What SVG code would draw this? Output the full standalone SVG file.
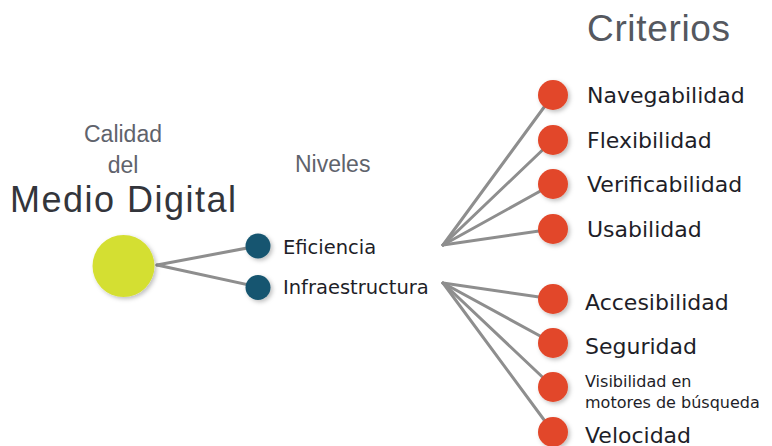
<svg xmlns="http://www.w3.org/2000/svg" width="772" height="446" viewBox="0 0 772 446">
<defs>
<filter id="sh" x="-40%" y="-40%" width="180%" height="180%">
<feDropShadow dx="2" dy="2" stdDeviation="2" flood-color="#000" flood-opacity="0.25"/>
</filter>
</defs>
<style>
.ln{stroke:#8e8e8e;stroke-width:3;fill:none;stroke-linecap:round}
.crit{fill:#e2472a;filter:url(#sh)}
.lvl{fill:#15556f;filter:url(#sh)}
.ct{font-family:"DejaVu Sans",sans-serif;font-size:22px;fill:#1e1e28}
.small{font-size:16px}
.lt{font-family:"DejaVu Sans",sans-serif;font-size:19.5px;fill:#1e1e28}
.head{font-family:"Liberation Sans",Arial,sans-serif;font-size:23px;fill:#5f636c}
</style>
<rect width="772" height="446" fill="#fff"/>
<g id="connectors">
<line class="ln" x1="157" y1="265" x2="258" y2="246"/>
<line class="ln" x1="157" y1="265" x2="258" y2="287"/>
<line class="ln" x1="443" y1="245" x2="553" y2="95"/>
<line class="ln" x1="443" y1="245" x2="553" y2="140"/>
<line class="ln" x1="443" y1="245" x2="553" y2="184"/>
<line class="ln" x1="443" y1="245" x2="553" y2="229"/>
<line class="ln" x1="443" y1="283" x2="553" y2="299"/>
<line class="ln" x1="443" y1="283" x2="553" y2="343"/>
<line class="ln" x1="443" y1="283" x2="553" y2="387"/>
<line class="ln" x1="443" y1="283" x2="553" y2="432"/>
</g>
<g id="titles">
<text class="head" x="123" y="142" text-anchor="middle">Calidad</text>
<text class="head" x="123" y="173" text-anchor="middle">del</text>
<text x="10" y="212" font-family="Liberation Sans, Arial, sans-serif" font-size="36" fill="#33353b" textLength="226">Medio Digital</text>
<text class="head" x="295" y="172">Niveles</text>
<text x="587" y="41" font-family="Liberation Sans, Arial, sans-serif" font-size="37" fill="#55585f" textLength="143">Criterios</text>
</g>
<g id="medio">
<circle cx="123.5" cy="266" r="31" fill="#d4df33" filter="url(#sh)"/>
</g>
<g id="eficiencia">
<circle class="lvl" cx="258" cy="246" r="12.5"/>
<text class="lt" x="283" y="254">Eficiencia</text>
</g>
<g id="infraestructura">
<circle class="lvl" cx="258" cy="287.5" r="12.5"/>
<text class="lt" x="283" y="294">Infraestructura</text>
</g>
<g id="navegabilidad">
<circle class="crit" cx="553" cy="95" r="15"/>
<text class="ct" x="587" y="102.5">Navegabilidad</text>
</g>
<g id="flexibilidad">
<circle class="crit" cx="553" cy="140" r="15"/>
<text class="ct" x="587" y="148">Flexibilidad</text>
</g>
<g id="verificabilidad">
<circle class="crit" cx="553" cy="184" r="15"/>
<text class="ct" x="587" y="192">Verificabilidad</text>
</g>
<g id="usabilidad">
<circle class="crit" cx="553" cy="229" r="15"/>
<text class="ct" x="587" y="237">Usabilidad</text>
</g>
<g id="accesibilidad">
<circle class="crit" cx="553" cy="299" r="15"/>
<text class="ct" x="585" y="310">Accesibilidad</text>
</g>
<g id="seguridad">
<circle class="crit" cx="553" cy="343" r="15"/>
<text class="ct" x="585" y="354">Seguridad</text>
</g>
<g id="visibilidad">
<circle class="crit" cx="553" cy="387" r="15"/>
<text class="ct small" x="585" y="387">Visibilidad en</text>
<text class="ct small" x="585" y="408">motores de búsqueda</text>
</g>
<g id="velocidad">
<circle class="crit" cx="553" cy="432" r="15"/>
<text class="ct" x="585" y="443">Velocidad</text>
</g>
</svg>
